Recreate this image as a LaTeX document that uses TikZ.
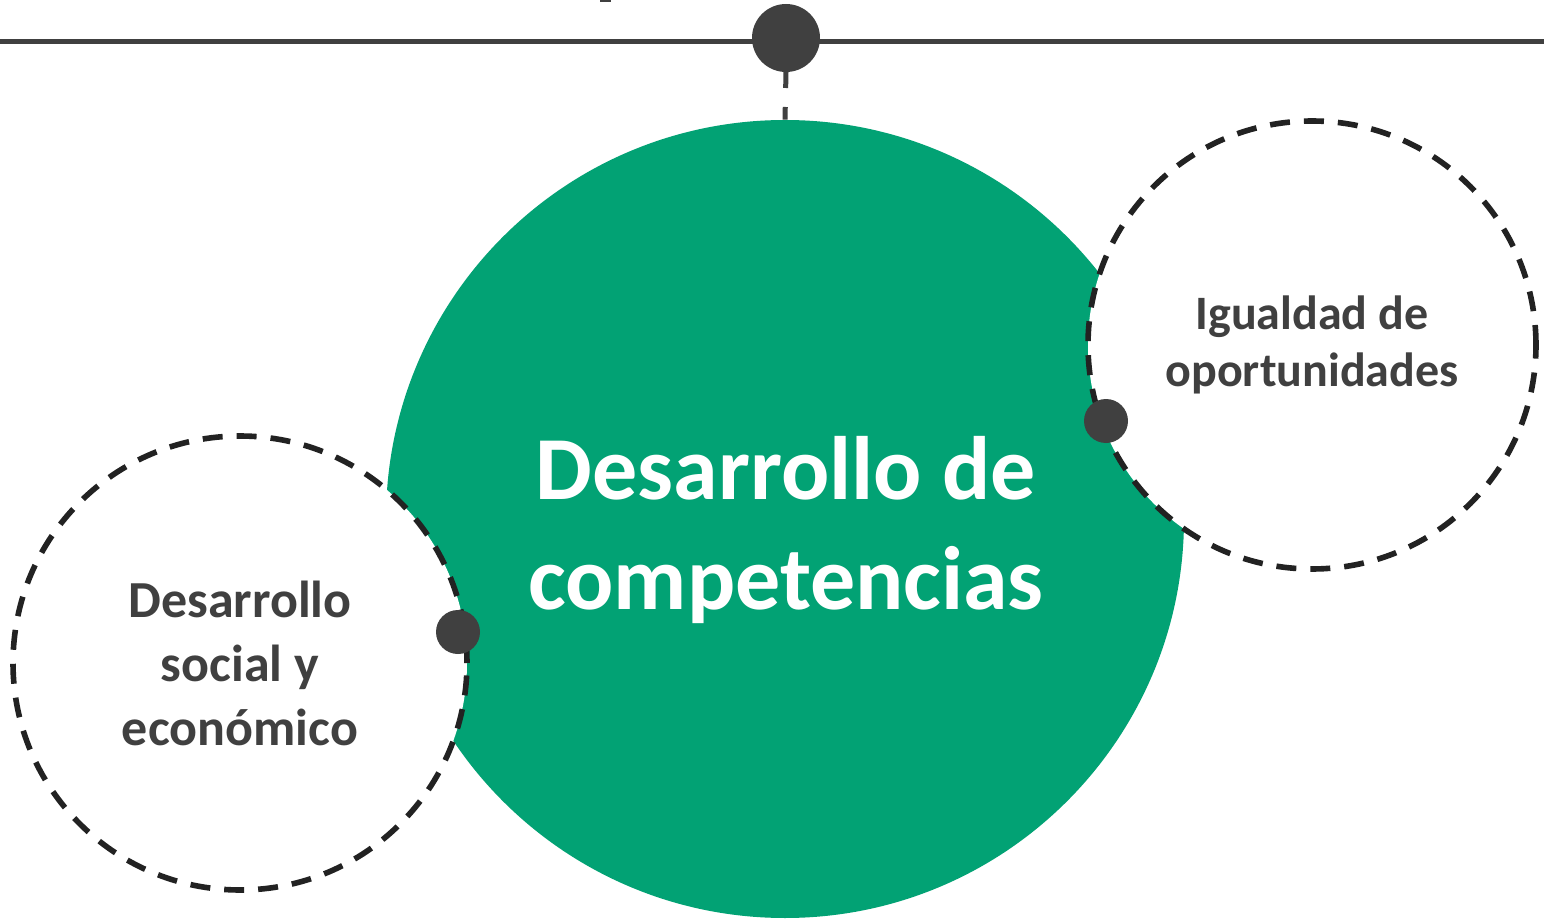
\documentclass[tikz,border=0pt]{standalone}
\usepackage{fontspec}
\setmainfont{Carlito}
\definecolor{mygreen}{HTML}{02A274}
\definecolor{dgray}{HTML}{404040}
\definecolor{dashc}{HTML}{222222}
\begin{document}
\begin{tikzpicture}[x=0.5pt,y=-0.5pt,
  dot/.style={circle, fill=dgray, inner sep=0pt, minimum size=#1},
  ring/.style={circle, draw=dashc, fill=white, line width=2.8pt, dash pattern=on 10pt off 7pt, inner sep=0pt, minimum size=#1, align=center, text=dgray, font=\bfseries},
  ]
\fill[white] (0,0) rectangle (1544,920);
\useasboundingbox (0,0) rectangle (1544,920);
\fill[dgray] (600,0) rectangle (611,2);
% main green circle
\node[circle, fill=mygreen, inner sep=0pt, minimum size=399pt] (main) at (785,519) {};
\node[text=white, font=\bfseries\fontsize{45}{55}\selectfont, align=center] (maintext) at (786,530) {Desarrollo de\\competencias};
% top line
\coordinate (lineL) at (0,42);
\coordinate (lineR) at (1544,42);
\draw[dgray, line width=2.5pt] (lineL) -- (lineR);
\node[dot=34pt] (topdot) at (786,38) {};
\draw[dgray, line width=2.5pt, dash pattern=on 8pt off 9.5pt] (topdot.center) ++(0,34) coordinate (ds) ;
\draw[dgray, line width=2.5pt, dash pattern=on 8pt off 9.5pt] (ds) -- (main.north);
% side rings
\node[ring=227pt, font=\bfseries\fontsize{26}{32}\selectfont] (left) at (240,663) {Desarrollo\\social y\\económico};
\node[ring=224pt, font=\bfseries\fontsize{24}{28.5}\selectfont] (right) at (1312,345) {Igualdad de\\oportunidades};
\node[dot=22pt] (ldot) at (458,632) {};
\node[dot=22pt] (rdot) at (1106,421) {};
\end{tikzpicture}
\end{document}
